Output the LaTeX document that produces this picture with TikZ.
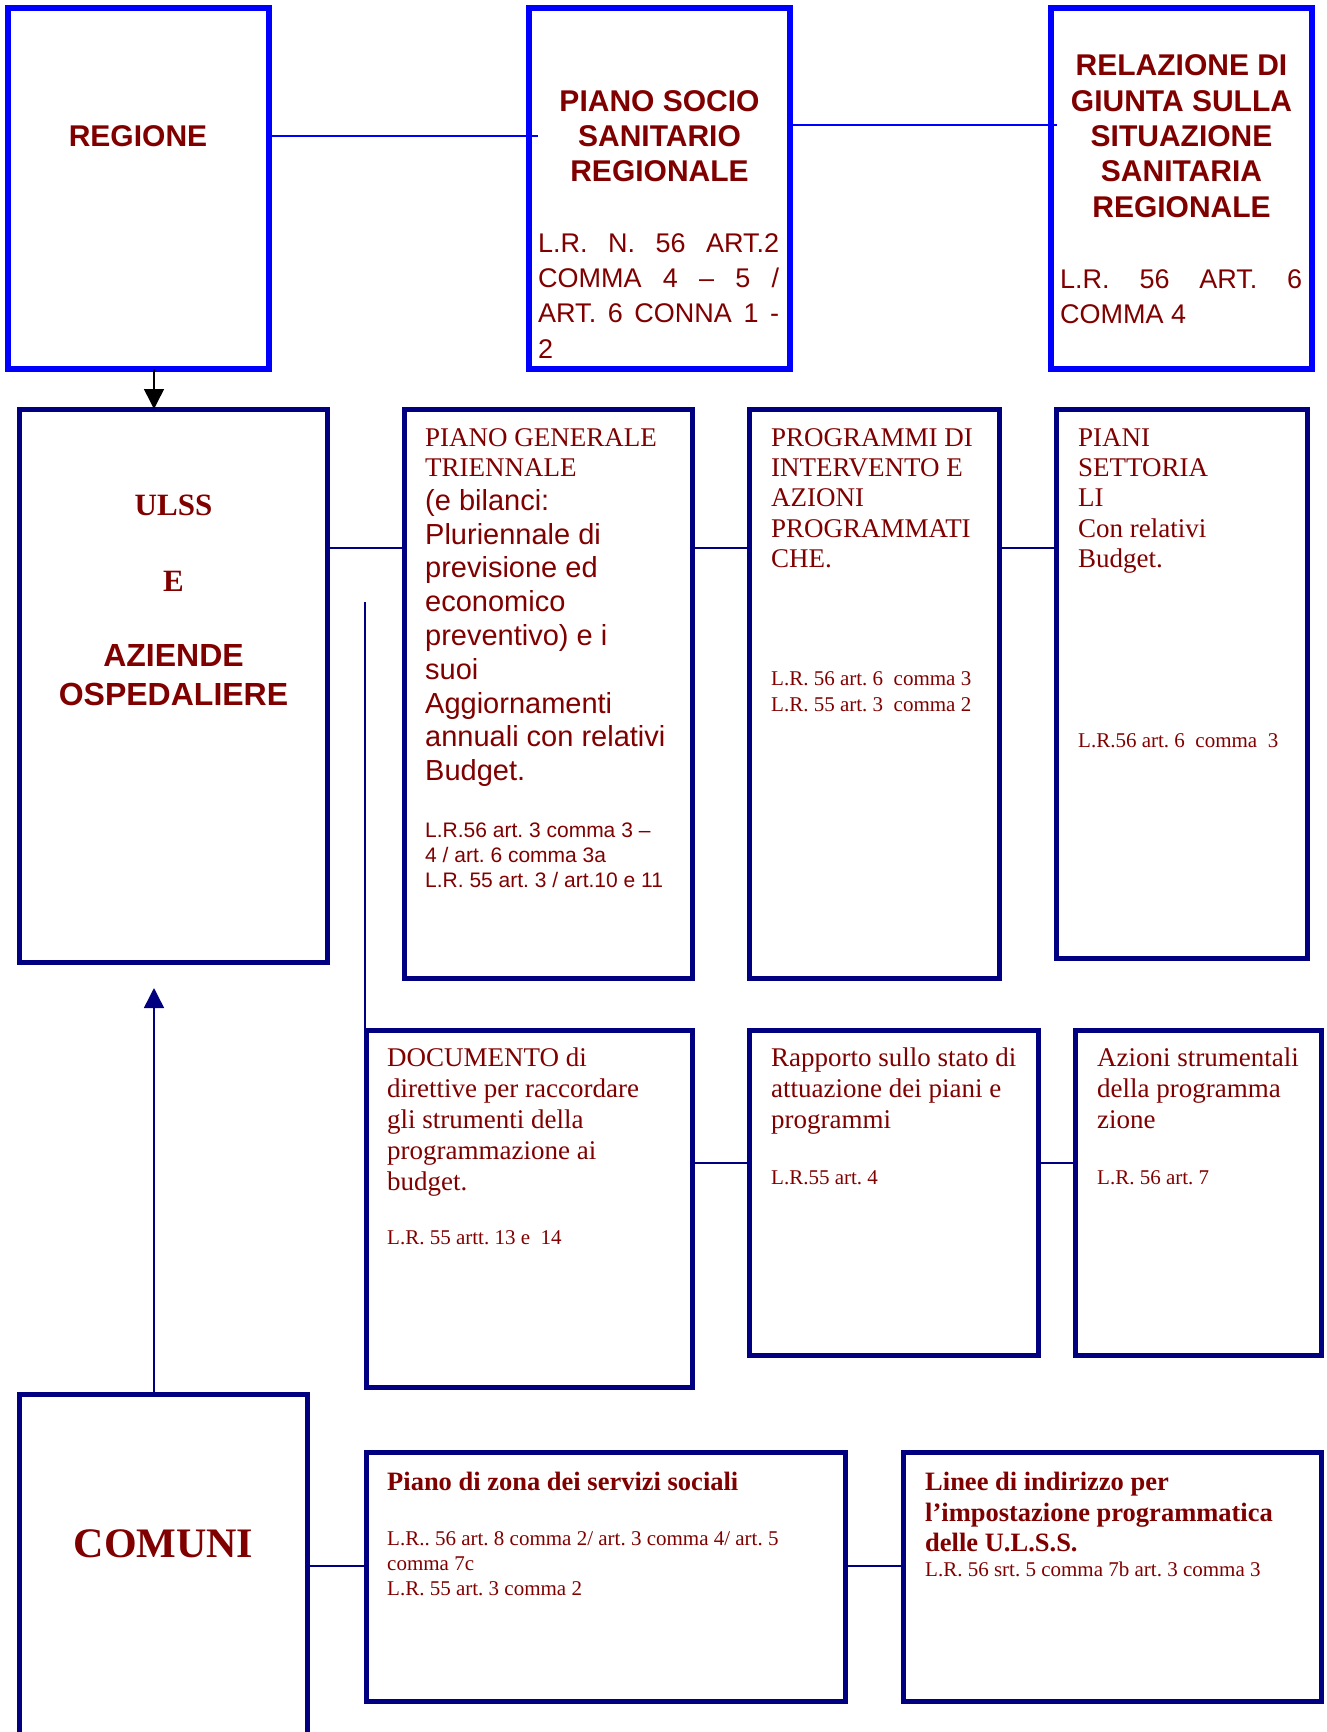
\documentclass[tikz,border=0pt]{standalone}
\usepackage{fontspec}
\setmainfont{Liberation Serif}
\setsansfont{Liberation Sans}
\usetikzlibrary{arrows.meta}
\usepackage{xcolor}
\definecolor{rgtext}{HTML}{800000}
\definecolor{rgblue}{HTML}{0000FF}
\definecolor{rgnavy}{HTML}{000080}
\newcommand{\fsz}[2]{\fontsize{#1}{#2}\selectfont}
\AtBeginDocument{\frenchspacing}

\begin{document}
\begin{tikzpicture}[x=1pt, y=-1pt,
    topbox/.style={draw=rgblue, line width=5.5pt, anchor=north west, inner sep=0pt, outer sep=0pt},
    box/.style={draw=rgnavy, line width=5pt, anchor=north west, inner sep=0pt, outer sep=0pt},
    txt/.style={text=rgtext, inner sep=0pt},
    ttl/.style={txt, anchor=north, align=center, font=\sffamily\bfseries\fsz{30}{35.4}},
    toplaw/.style={txt, anchor=north west, text width=241pt, align=justify, font=\sffamily\fsz{27}{35.4}},
    rmtxt/.style={txt, anchor=north west, align=left, font=\fsz{27}{30.4}},
    rmlaw/.style={txt, anchor=north west, align=left, font=\fsz{21}{25.4}},
    sflaw/.style={txt, anchor=north west, align=left, font=\sffamily\fsz{21}{25}},
    lnk/.style={rgnavy, line width=1.8pt},
    toplnk/.style={rgblue, line width=2pt},
    tip/.style={-{Triangle[length=20pt, width=20pt]}, line width=1.5pt}]
  \path[use as bounding box] (0,0) rectangle (1326,1732);
  \clip (0,0) rectangle (1326,1732);

  \node[topbox, minimum width=261pt, minimum height=361pt] (regione) at (8,8) {};
  \node[topbox, minimum width=261pt, minimum height=361pt] (psr) at (529,8) {};
  \node[topbox, minimum width=261pt, minimum height=361pt] (relaz) at (1051,8) {};

  \node[box, minimum width=308pt, minimum height=553pt] (ulss) at (19,409) {};
  \node[box, minimum width=288pt, minimum height=569pt] (pgt) at (404,409) {};
  \node[box, minimum width=250pt, minimum height=569pt] (prog) at (749,409) {};
  \node[box, minimum width=251pt, minimum height=549pt] (piani) at (1056,409) {};

  \node[box, minimum width=326pt, minimum height=357pt] (doc) at (366,1030) {};
  \node[box, minimum width=289pt, minimum height=325pt] (rapp) at (749,1030) {};
  \node[box, minimum width=246pt, minimum height=325pt] (azioni) at (1075,1030) {};

  \node[box, minimum width=288pt, minimum height=420pt] (comuni) at (19,1394) {};
  \node[box, minimum width=479pt, minimum height=249pt] (zona) at (366,1452) {};
  \node[box, minimum width=418pt, minimum height=249pt] (linee) at (903,1452) {};

  \node[txt, font=\sffamily\bfseries\fsz{30}{35.4}] (regionet) at (138,136) {REGIONE};
  \node[ttl] (psrt) at (659.5,90) {PIANO SOCIO\\SANITARIO\\REGIONALE};
  \node[toplaw] (psrl) at (538,233)
    {L.R. N. 56 ART.2\linebreak COMMA 4 – 5 /\linebreak ART. 6 CONNA 1 -\linebreak 2};
  \node[ttl] (relazt) at (1181.5,54.5)
    {RELAZIONE DI\\GIUNTA SULLA\\SITUAZIONE\\SANITARIA\\REGIONALE};
  \node[toplaw, text width=242pt] (relazl) at (1060,269) {L.R. 56 ART. 6\linebreak COMMA 4};

  \node[txt, font=\bfseries\fsz{31}{36}] (ulsst) at (173.5,505) {ULSS};
  \node[txt, font=\bfseries\fsz{31}{36}] (et) at (173.5,581) {E};
  \node[txt, align=center, font=\sffamily\bfseries\fsz{32}{39}] (aziendet) at (173.5,675.5)
    {AZIENDE\\OSPEDALIERE};

  \node[rmtxt] (pgtt) at (425,428) {PIANO GENERALE\\TRIENNALE};
  \node[txt, anchor=north west, align=left, font=\sffamily\fsz{29}{33.8}] (pgtb) at (425,489)
    {(e bilanci:\\Pluriennale di\\previsione ed\\economico\\preventivo) e i\\suoi\\Aggiornamenti\\annuali con relativi\\Budget.};
  \node[sflaw] (pgtl) at (425,823)
    {L.R.56 art. 3 comma 3 –\\4 / art. 6 comma 3a\\L.R. 55 art. 3 / art.10 e 11};

  \node[rmtxt] (progt) at (771,428)
    {PROGRAMMI DI\\INTERVENTO E\\AZIONI\\PROGRAMMATI\\CHE.};
  \node[rmlaw] (progl) at (771,671.5)
    {L.R. 56 art. 6\ \ comma 3\\L.R. 55 art. 3\ \ comma 2};

  \node[rmtxt] (pianit) at (1078,428) {PIANI\\SETTORIA\\LI\\Con relativi\\Budget.};
  \node[rmlaw] (pianil) at (1078,733.4) {L.R.56 art. 6\ \ comma\ \ 3};

  \node[rmtxt, font=\fsz{27}{31}] (doct) at (387,1047.6)
    {DOCUMENTO di\\direttive per raccordare\\gli strumenti della\\programmazione ai\\budget.};
  \node[rmlaw] (docl) at (387,1230.6) {L.R. 55 artt. 13 e\ \ 14};

  \node[rmtxt, font=\fsz{27}{31}] (rappt) at (771,1047.6)
    {Rapporto sullo stato di\\attuazione dei piani e\\programmi};
  \node[rmlaw] (rappl) at (771,1170) {L.R.55 art. 4};

  \node[rmtxt, font=\fsz{27}{31}] (azionit) at (1097,1047.6)
    {Azioni strumentali\\della programma\\zione};
  \node[rmlaw] (azionil) at (1097,1170) {L.R. 56 art. 7};

  \node[txt, font=\bfseries\fsz{42}{48}] (comunit) at (163.5,1543.7) {COMUNI};

  \node[rmtxt, font=\bfseries\fsz{26.5}{30.4}] (zonat) at (387,1472)
    {Piano di zona dei servizi sociali};
  \node[rmlaw, font=\fsz{21}{25}] (zonal) at (387,1531)
    {L.R.. 56 art. 8 comma 2/ art. 3 comma 4/ art. 5\\comma 7c\\L.R. 55 art. 3 comma 2};

  \node[rmtxt, font=\bfseries\fsz{26.5}{30.4}] (lineet) at (925,1472)
    {Linee di indirizzo per\\l’impostazione programmatica\\delle U.L.S.S.};
  \node[rmlaw] (lineel) at (925,1562) {L.R. 56 srt. 5 comma 7b art. 3 comma 3};

  \coordinate (lvA) at (0,136);
  \coordinate (lvB) at (0,125);
  \coordinate (lvC) at (0,548);
  \coordinate (lvD) at (0,1163);
  \coordinate (lvE) at (0,1566);
  \coordinate (axis) at (154,0);
  \coordinate (vtop) at (365,602);
  \coordinate (uptip) at (154,988);

  \draw[toplnk, shorten >=-9pt] (regione.east |- lvA) -- (psr.west |- lvA);
  \draw[toplnk, shorten >=-6pt] (psr.east |- lvB) -- (relaz.west |- lvB);
  \draw[lnk] (ulss.east |- lvC) -- (pgt.west |- lvC);
  \draw[lnk] (pgt.east |- lvC) -- (prog.west |- lvC);
  \draw[lnk] (prog.east |- lvC) -- (piani.west |- lvC);
  \draw[lnk] (doc.east |- lvD) -- (rapp.west |- lvD);
  \draw[lnk] (rapp.east |- lvD) -- (azioni.west |- lvD);
  \draw[lnk] (comuni.east |- lvE) -- (zona.west |- lvE);
  \draw[lnk] (zona.east |- lvE) -- (linee.west |- lvE);
  \draw[rgnavy, line width=1.5pt] (vtop) -- (doc.north -| vtop);
  \draw[tip, black] (regione.south -| axis) -- (ulss.north -| axis);
  \draw[tip, rgnavy] (comuni.north -| axis) -- (uptip);
\end{tikzpicture}
\end{document}
